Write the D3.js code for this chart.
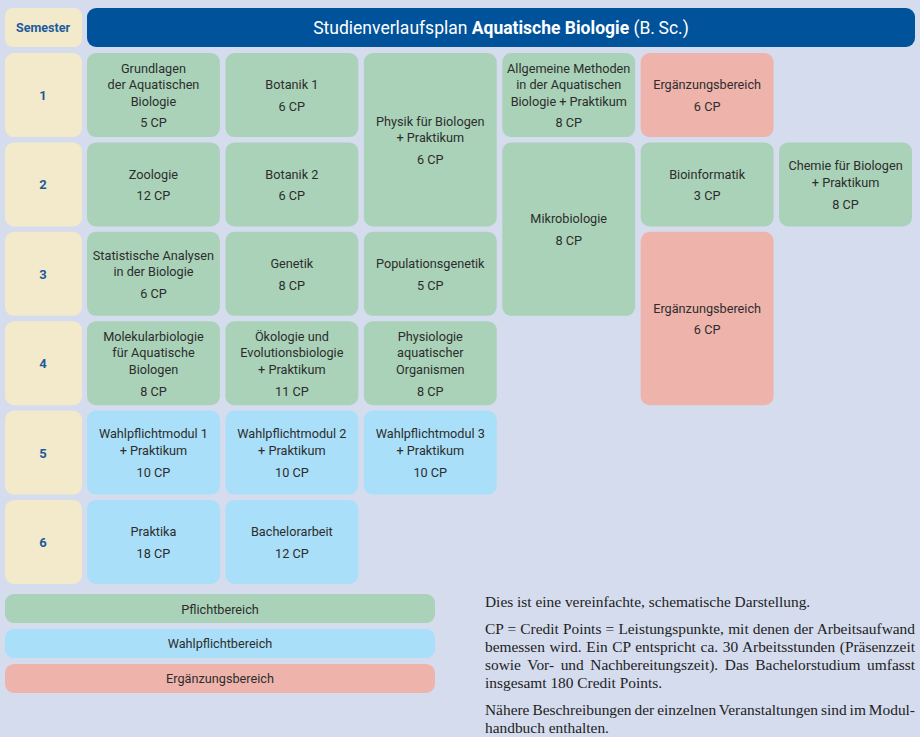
<!DOCTYPE html>
<html>
<head>
<meta charset="utf-8">
<script src="https://cdn.jsdelivr.net/npm/d3@7"></script>
<style>
  body { margin: 0; background: #d5dcee; }
  svg { display: block; }
</style>
</head>
<body>
<svg width="920" height="737"></svg>
<script>
const semesters = [1, 2, 3, 4, 5, 6];
const slots = [0, 1, 2, 3, 4, 5];

// module name lines, credit points, semester, slot, number of semesters spanned, area
const moduleNames = [
    ["Grundlagen", "der Aquatischen", "Biologie"], ["Botanik 1"], ["Physik für Biologen", "+ Praktikum"],
    ["Allgemeine Methoden", "in der Aquatischen", "Biologie + Praktikum"], ["Ergänzungsbereich"],
    ["Zoologie"], ["Botanik 2"], ["Mikrobiologie"], ["Bioinformatik"], ["Chemie für Biologen", "+ Praktikum"],
    ["Statistische Analysen", "in der Biologie"], ["Genetik"], ["Populationsgenetik"], ["Ergänzungsbereich"],
    ["Molekularbiologie", "für Aquatische", "Biologen"], ["Ökologie und", "Evolutionsbiologie", "+ Praktikum"],
    ["Physiologie", "aquatischer", "Organismen"],
    ["Wahlpflichtmodul 1", "+ Praktikum"], ["Wahlpflichtmodul 2", "+ Praktikum"], ["Wahlpflichtmodul 3", "+ Praktikum"],
    ["Praktika"], ["Bachelorarbeit"]
];
const moduleCP   = [5, 6, 6, 8, 6, 12, 6, 8, 3, 8, 6, 8, 5, 6, 8, 11, 8, 10, 10, 10, 18, 12];
const moduleSem  = [1, 1, 1, 1, 1, 2, 2, 2, 2, 2, 3, 3, 3, 3, 4, 4, 4, 5, 5, 5, 6, 6];
const moduleSlot = [0, 1, 2, 3, 4, 0, 1, 3, 4, 5, 0, 1, 2, 4, 0, 1, 2, 0, 1, 2, 0, 1];
const moduleSpan = [1, 1, 2, 1, 1, 1, 1, 2, 1, 1, 1, 1, 1, 2, 1, 1, 1, 1, 1, 1, 1, 1];
const moduleArea = ["P", "P", "P", "P", "E", "P", "P", "P", "P", "P", "P", "P", "P", "E",
                    "P", "P", "P", "W", "W", "W", "W", "W"];

const areas = ["P", "W", "E"];
const areaLabels = ["Pflichtbereich", "Wahlpflichtbereich", "Ergänzungsbereich"];

const notes = [
    ["Dies ist eine vereinfachte, schematische Darstellung."],
    ["CP = Credit Points = Leistungspunkte, mit denen der Arbeitsaufwand",
     "bemessen wird. Ein CP entspricht ca. 30 Arbeitsstunden (Präsenzzeit",
     "sowie Vor- und Nachbereitungszeit). Das Bachelorstudium umfasst",
     "insgesamt 180 Credit Points."],
    ["Nähere Beschreibungen der einzelnen Veranstaltungen sind im Modul-",
     "handbuch enthalten."]
];

const modules = moduleNames.map((n, i) => ({
    name: n, cp: moduleCP[i], sem: moduleSem[i], slot: moduleSlot[i],
    span: moduleSpan[i], area: moduleArea[i]
}));

const color = d3.scaleOrdinal().domain(areas).range(["#a9d2b8", "#a9dff8", "#eeb3ab"]);
const cellFont = "Roboto, 'DejaVu Sans', sans-serif";
const textCol = "#2d2d2d";

const svg = d3.select("svg");

const x = d3.scaleBand().domain(slots).range([87, 912]).paddingInner(0.04);
const y = d3.scaleBand().domain(semesters).range([53, 584]).paddingInner(0.06);

// header
svg.append("rect")
   .attr("x", 5).attr("y", 8).attr("width", 77).attr("height", 39)
   .attr("rx", 8).attr("fill", "#f3eacc");
svg.append("text")
   .attr("x", 43).attr("y", 32)
   .attr("text-anchor", "middle")
   .attr("font-family", cellFont).attr("font-size", 12.5).attr("font-weight", "bold")
   .attr("fill", "#1d5a9c")
   .text("Semester");

svg.append("rect")
   .attr("x", 87).attr("y", 8).attr("width", 828).attr("height", 39)
   .attr("rx", 9).attr("fill", "#00529b");
const title = svg.append("text")
   .attr("x", 501).attr("y", 34)
   .attr("text-anchor", "middle")
   .attr("font-family", cellFont).attr("font-size", 17.5)
   .attr("fill", "#fff");
title.append("tspan").text("Studienverlaufsplan ");
title.append("tspan").attr("font-weight", "bold").text("Aquatische Biologie");
title.append("tspan").text(" (B.\u2009Sc.)");

// semester column
const sem = svg.append("g").selectAll("g")
    .data(semesters)
    .join("g");
sem.append("rect")
   .attr("x", 5).attr("y", d => y(d))
   .attr("width", 77).attr("height", y.bandwidth())
   .attr("rx", 9).attr("fill", "#f3eacc");
sem.append("text")
   .attr("x", 43).attr("y", d => y(d) + y.bandwidth() / 2 + 5)
   .attr("text-anchor", "middle")
   .attr("font-family", cellFont).attr("font-size", 13).attr("font-weight", "bold")
   .attr("fill", "#1d5a9c")
   .text(d => d);

// modules
const lineH = 16.7;
const cpGap = 21.5;

const cell = svg.append("g").selectAll("g")
    .data(modules)
    .join("g")
    .attr("transform", d => `translate(${x(d.slot)},${y(d.sem)})`);

cell.append("rect")
    .attr("width", x.bandwidth())
    .attr("height", d => y(d.sem + d.span - 1) + y.bandwidth() - y(d.sem))
    .attr("rx", 9)
    .attr("fill", d => color(d.area));

cell.each(function(d) {
    const h = y(d.sem + d.span - 1) + y.bandwidth() - y(d.sem);
    const total = (d.name.length - 1) * lineH + cpGap;
    const top = h / 2 - total / 2 + 5;
    const g = d3.select(this);
    g.selectAll("text.name")
     .data(d.name)
     .join("text")
     .attr("class", "name")
     .attr("x", x.bandwidth() / 2)
     .attr("y", (t, i) => top + i * lineH)
     .attr("text-anchor", "middle")
     .attr("font-family", cellFont).attr("font-size", 12.7)
     .attr("fill", textCol)
     .text(t => t);
    g.append("text")
     .attr("x", x.bandwidth() / 2)
     .attr("y", top + total)
     .attr("text-anchor", "middle")
     .attr("font-family", cellFont).attr("font-size", 12.7)
     .attr("fill", textCol)
     .text(d.cp + " CP");
});

// legend
const ly = d3.scaleBand().domain(areas).range([594, 693]).paddingInner(0.17);
const legend = svg.append("g").selectAll("g")
    .data(areas)
    .join("g")
    .attr("transform", d => `translate(5,${ly(d)})`);
legend.append("rect")
      .attr("width", 430).attr("height", ly.bandwidth())
      .attr("rx", 9)
      .attr("fill", d => color(d));
legend.append("text")
      .attr("x", 215).attr("y", ly.bandwidth() / 2 + 5)
      .attr("text-anchor", "middle")
      .attr("font-family", cellFont).attr("font-size", 12.7)
      .attr("fill", textCol)
      .text((d, i) => areaLabels[i]);

// notes, justified like the print version
const noteX = 485, noteW = 430;
const noteG = svg.append("g")
    .attr("font-family", "'Liberation Serif', 'DejaVu Serif', serif")
    .attr("font-size", 15.4)
    .attr("fill", "#222");
let ny = 607;
notes.forEach(par => {
    par.forEach((line, i) => {
        const t = noteG.append("text").attr("x", noteX).attr("y", ny).text(line);
        if (i < par.length - 1) {
            const gaps = line.split(" ").length - 1;
            const extra = noteW - t.node().getComputedTextLength();
            if (gaps > 0) t.attr("word-spacing", extra / gaps);
        }
        ny += 18;
    });
    ny += 9;
});
</script>
</body>
</html>
